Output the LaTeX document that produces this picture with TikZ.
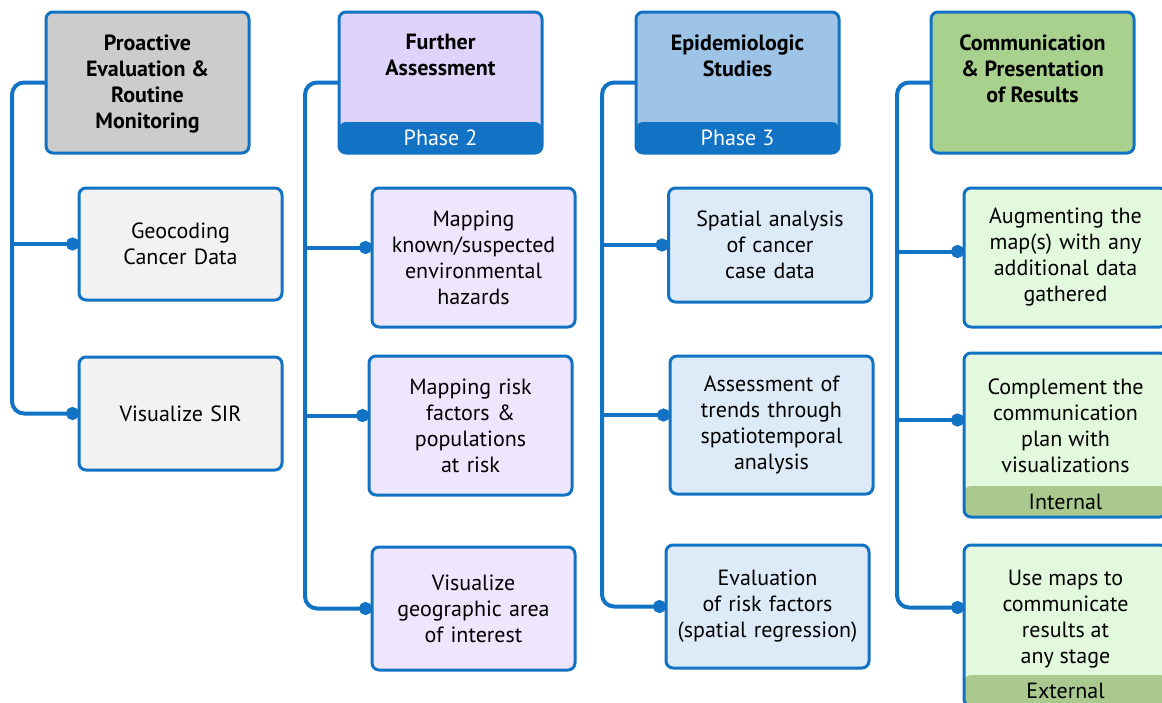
\documentclass[tikz,border=0pt]{standalone}
\usepackage{fontspec}
\setmainfont{PT Sans}
\usetikzlibrary{arrows.meta}

\definecolor{lineblue}{RGB}{18,114,196}
\definecolor{grayhead}{HTML}{CCCCCC}
\definecolor{graybox}{HTML}{F2F2F2}
\definecolor{purplehead}{HTML}{DDD3FB}
\definecolor{purplebox}{HTML}{EEE6FD}
\definecolor{bluehead}{HTML}{9DC3E6}
\definecolor{bluebox}{HTML}{DDEBF8}
\definecolor{greenhead}{HTML}{A9D18E}
\definecolor{greenbox}{HTML}{E3F9DD}
\definecolor{greenband}{HTML}{A9C98F}

\def\boxw{101.5pt}
\def\txtfont{\fontsize{11}{13}\selectfont}

\tikzset{
  itembox/.style={draw=lineblue, line width=1.5pt, rounded corners=3.5pt, fill=#1,
    minimum width=\boxw, text width=100pt, align=center, inner sep=0pt,
    outer sep=0pt, font=\txtfont},
  headbox/.style={itembox=#1, minimum height=70.5pt},
  headtitle/.style={anchor=north, align=center, inner sep=0pt, yshift=-11pt,
    font=\txtfont\bfseries},
  bodytxt/.style={anchor=north, align=center, inner sep=0pt, yshift=-12.5pt,
    font=\txtfont},
  phaseband/.style={path picture={\fill[#1]
    ([yshift=15.5pt]path picture bounding box.south west)
    rectangle (path picture bounding box.south east);}},
  bandtxt/.style={inner sep=0pt, font=\txtfont},
  conn/.style={draw=lineblue, line width=2pt, rounded corners=6pt,
    -{Circle[length=6.5pt]}}
}

\begin{document}
\begin{tikzpicture}[x=0.5pt, y=-0.5pt]

% Page
\useasboundingbox (0,0) rectangle (1162,702);
\clip (0,0) rectangle (1162,702);

% Column 1 - proactive evaluation
\node[headbox=grayhead,
  label={[headtitle]90:{Proactive\\Evaluation \&\\Routine\\Monitoring}}] (h1) at (147.5,82.5) {};
\node[itembox=graybox, minimum height=56pt] (g1) at (180.5,244) {Geocoding\\Cancer Data};
\node[itembox=graybox, minimum height=56.5pt] (v1) at (180.5,413.5) {Visualize SIR};

% Column 2 - phase 2
\node[headbox=purplehead, phaseband=lineblue,
  label={[headtitle]90:{Further\\Assessment}}] (h2) at (440.5,82.5) {};
\node[bandtxt, text=white] (p2) at ([yshift=7.75pt]h2.south) {Phase 2};
\node[itembox=purplebox, minimum height=69.5pt] (m1) at (473.5,257.5)
  {Mapping\\known/suspected\\environmental\\hazards};
\node[itembox=purplebox, minimum height=69.5pt] (m2) at (470.5,425.5)
  {Mapping risk\\factors \&\\populations\\at risk};
\node[itembox=purplebox, minimum height=61.5pt] (m3) at (473.5,608.5)
  {Visualize\\geographic area\\of interest};

% Column 3 - phase 3
\node[headbox=bluehead, phaseband=lineblue,
  label={[headtitle]90:{Epidemiologic\\Studies}}] (h3) at (737.5,82.5) {};
\node[bandtxt, text=white] (p3) at ([yshift=7.75pt]h3.south) {Phase 3};
\node[itembox=bluebox, minimum height=57pt] (s1) at (770,245)
  {Spatial analysis\\of cancer\\case data};
\node[itembox=bluebox, minimum height=69pt] (s2) at (771.5,425)
  {Assessment of\\trends through\\spatiotemporal\\analysis};
\node[itembox=bluebox, minimum height=61.5pt] (s3) at (767.5,606.5)
  {Evaluation\\of risk factors\\(spatial regression)};

% Column 4 - results
\node[headbox=greenhead,
  label={[headtitle]90:{Communication\\\& Presentation\\of Results}}] (h4) at (1032.5,82.5) {};
\node[itembox=greenbox, minimum height=69.5pt] (a1) at (1065.5,257.5)
  {Augmenting the\\map(s) with any\\additional data\\gathered};
\node[itembox=greenbox, minimum height=82pt, phaseband=greenband,
  label={[bodytxt]90:{Complement the\\communication\\plan with\\visualizations}}] (a2) at (1065.5,435) {};
\node[bandtxt] (i2) at ([yshift=7.75pt]a2.south) {Internal};
\node[itembox=greenbox, minimum height=80.5pt, phaseband=greenband,
  label={[bodytxt]90:{Use maps to\\communicate\\results at\\any stage}}] (a3) at (1065.5,625.5) {};
\node[bandtxt] (e3) at ([yshift=7.75pt]a3.south) {External};

% Trunks and branch points
\foreach \c in {1,...,4} {
  \coordinate (t\c) at ([xshift=-17pt]h\c.west);
}
\coordinate (b21) at ([yshift=5pt]m1.west);
\coordinate (b22) at ([yshift=5pt]m2.west);
\coordinate (b32) at ([yshift=5pt]s2.west);
\coordinate (b41) at ([yshift=3pt]a1.west);
\coordinate (b42) at ([yshift=7.5pt]a2.west);
\coordinate (b43) at ([yshift=9pt]a3.west);

% Connectors
\draw[conn] (h1.west) -- (t1) |- (v1.west);
\draw[conn] (t1 |- g1.west) -- (g1.west);

\draw[conn] (h2.west) -- (t2) |- (m3.west);
\draw[conn] (t2 |- b21) -- (b21);
\draw[conn] (t2 |- b22) -- (b22);

\draw[conn] (h3.west) -- (t3) |- (s3.west);
\draw[conn] (t3 |- s1.west) -- (s1.west);
\draw[conn] (t3 |- b32) -- (b32);

\draw[conn] (h4.west) -- (t4) |- (b43);
\draw[conn] (t4 |- b41) -- (b41);
\draw[conn] (t4 |- b42) -- (b42);

\end{tikzpicture}
\end{document}
